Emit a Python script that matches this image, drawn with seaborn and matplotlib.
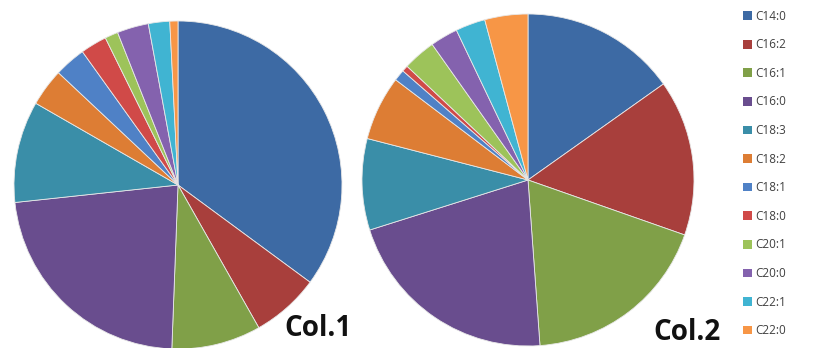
import matplotlib
matplotlib.use("Agg")
import matplotlib.pyplot as plt
import seaborn as sns
from matplotlib.patches import Patch

sns.set_style("white")
plt.rcParams['font.family'] = ['Open Sans', 'DejaVu Sans']

categories = ["C14:0", "C16:2", "C16:1", "C16:0", "C18:3", "C18:2",
              "C18:1", "C18:0", "C20:1", "C20:0", "C22:1", "C22:0"]
col1 = [35.1, 6.7, 8.8, 22.7, 10.0, 3.7, 3.1, 2.6, 1.3, 3.1, 2.1, 0.8]
col2 = [15.2, 15.2, 18.5, 21.3, 8.9, 6.3, 1.1, 0.6, 3.2, 2.7, 2.9, 4.2]
titles = ["Col.1", "Col.2"]

colors = ["#3D6AA4", "#A83F3C", "#80A048", "#694D8E", "#3A8EA8", "#DD7D34",
          "#4F81C6", "#D04A48", "#9DC35A", "#8462AE", "#40B4D2", "#F79646"]
palette = sns.color_palette(colors)

fig = plt.figure(figsize=(8.17, 3.48), dpi=100)

W, H = 817, 348
specs = [((178, 185, 164), col1), ((528, 180, 166), col2)]
for (cx, cy, r), vals in specs:
    ax = fig.add_axes([(cx - r) / W, (H - cy - r) / H, 2 * r / W, 2 * r / H])
    ax.pie(vals, colors=palette, startangle=90, counterclock=False,
           radius=1, wedgeprops=dict(edgecolor="#e8e8e8", linewidth=0.6))
    ax.set_xlim(-1, 1)
    ax.set_ylim(-1, 1)
    ax.set_aspect("auto")
    ax.axis("off")

fig.text(284 / W, 1 - 329 / H, titles[0], fontsize=20, fontweight="bold",
         va="center", ha="left", color="#111111")
fig.text(653 / W, 1 - 333 / H, titles[1], fontsize=20, fontweight="bold",
         va="center", ha="left", color="#111111")

handles = [Patch(facecolor=c, edgecolor="none") for c in palette]
fig.legend(handles, categories, loc="upper left",
           bbox_to_anchor=(738 / W, 1 - 5 / H), frameon=False,
           fontsize=8.5, handlelength=0.75, handleheight=0.75,
           handletextpad=0.35, labelspacing=1.32, borderaxespad=0,
           labelcolor="#404040")

fig.savefig("out.png", dpi=100)
